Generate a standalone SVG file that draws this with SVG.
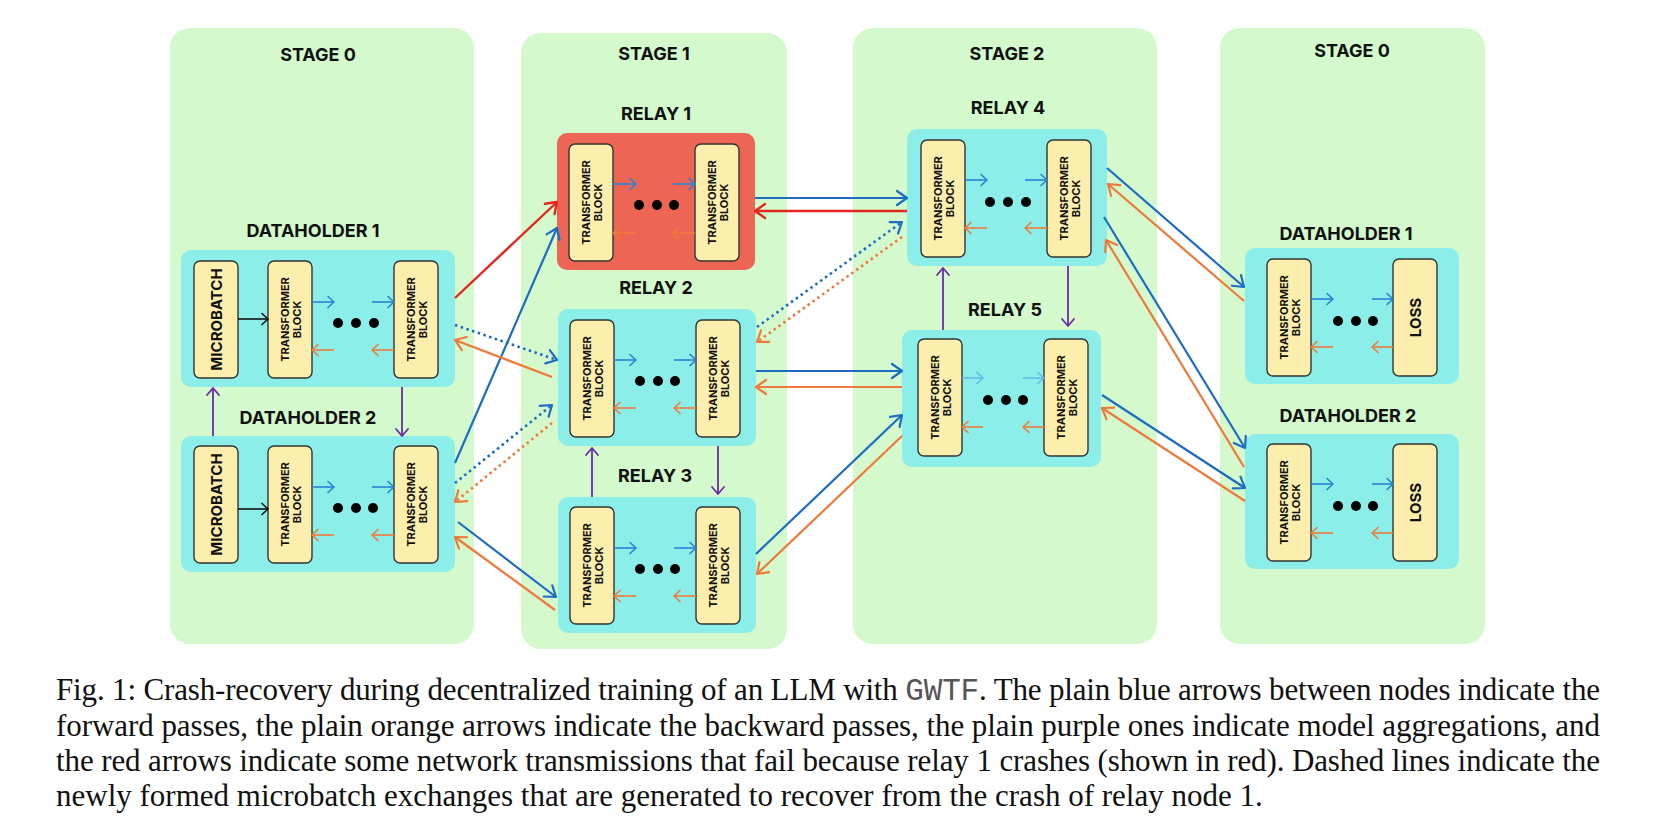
<svg xmlns="http://www.w3.org/2000/svg" width="1653" height="836" viewBox="0 0 1653 836">
<style>
.panel{fill:#d4f9cd}
.box{fill:#8beee8}
.crash{fill:#ec6555}
.tb{fill:#fcefae;stroke:#333;stroke-width:1.4}
.h{font-family:Inter,"Liberation Sans",sans-serif;font-weight:700;font-size:18px;fill:#111;text-anchor:middle}
.t{font-family:Inter,"Liberation Sans",sans-serif;font-weight:700;font-size:11px;fill:#111;text-anchor:middle}
.m{font-family:Inter,"Liberation Sans",sans-serif;font-weight:700;font-size:15px;fill:#111;text-anchor:middle}
.ib{stroke:#2a80d4;stroke-width:1.6;fill:none;marker-end:url(#mib)}
.ib2{stroke:#62b8ea;stroke-width:1.6;fill:none;marker-end:url(#mib2)}
.io{stroke:#f0793a;stroke-width:1.6;fill:none;marker-end:url(#mio)}
.ik{stroke:#111;stroke-width:1.6;fill:none;marker-end:url(#mik)}
.cb{stroke:#1d6cc4;stroke-width:2.2;fill:none;marker-end:url(#mb)}
.co{stroke:#f0793a;stroke-width:2.2;fill:none;marker-end:url(#mo)}
.cr{stroke:#e3261e;stroke-width:2.4;fill:none;marker-end:url(#mr)}
.db{stroke:#1d6cc4;stroke-width:2.6;fill:none;stroke-dasharray:2.5 3.5;marker-end:url(#mb)}
.do{stroke:#f0793a;stroke-width:2.6;fill:none;stroke-dasharray:2.5 3.5;marker-end:url(#mo)}
.cp{stroke:#6b2aa6;stroke-width:1.8;fill:none;marker-end:url(#mp)}
.dot{fill:#000}
.cap{font-family:"Liberation Serif","Times New Roman",serif;font-size:31px;fill:#111}
.mono{font-family:"Liberation Mono","Courier New",monospace;fill:#555}
</style>
<defs>
<marker id="mb" markerUnits="userSpaceOnUse" markerWidth="20" markerHeight="20" orient="auto" overflow="visible"><path d="M-10,-7 L0,0 L-10,7" fill="none" stroke="#1d6cc4" stroke-width="2.2" stroke-linecap="round" stroke-linejoin="round"/></marker>
<marker id="mo" markerUnits="userSpaceOnUse" markerWidth="20" markerHeight="20" orient="auto" overflow="visible"><path d="M-10,-7 L0,0 L-10,7" fill="none" stroke="#f0793a" stroke-width="2.2" stroke-linecap="round" stroke-linejoin="round"/></marker>
<marker id="mr" markerUnits="userSpaceOnUse" markerWidth="20" markerHeight="20" orient="auto" overflow="visible"><path d="M-10,-7 L0,0 L-10,7" fill="none" stroke="#e3261e" stroke-width="2.4" stroke-linecap="round" stroke-linejoin="round"/></marker>
<marker id="mp" markerUnits="userSpaceOnUse" markerWidth="20" markerHeight="20" orient="auto" overflow="visible"><path d="M-7,-6 L0,0 L-7,6" fill="none" stroke="#6b2aa6" stroke-width="1.8" stroke-linecap="round" stroke-linejoin="round"/></marker>
<marker id="mib" markerUnits="userSpaceOnUse" markerWidth="20" markerHeight="20" orient="auto" overflow="visible"><path d="M-6,-5.5 L0,0 L-6,5.5" fill="none" stroke="#2a80d4" stroke-width="1.6" stroke-linecap="round" stroke-linejoin="round"/></marker>
<marker id="mib2" markerUnits="userSpaceOnUse" markerWidth="20" markerHeight="20" orient="auto" overflow="visible"><path d="M-6,-5.5 L0,0 L-6,5.5" fill="none" stroke="#62b8ea" stroke-width="1.6" stroke-linecap="round" stroke-linejoin="round"/></marker>
<marker id="mio" markerUnits="userSpaceOnUse" markerWidth="20" markerHeight="20" orient="auto" overflow="visible"><path d="M-6,-5.5 L0,0 L-6,5.5" fill="none" stroke="#f0793a" stroke-width="1.6" stroke-linecap="round" stroke-linejoin="round"/></marker>
<marker id="mik" markerUnits="userSpaceOnUse" markerWidth="20" markerHeight="20" orient="auto" overflow="visible"><path d="M-6,-5.5 L0,0 L-6,5.5" fill="none" stroke="#111" stroke-width="1.6" stroke-linecap="round" stroke-linejoin="round"/></marker>
</defs>
<rect width="1653" height="836" fill="#fff"/>

<g id="stages">
<g id="stage0-left"><rect class="panel" x="170" y="28" width="304" height="616" rx="20"/><text class="h" x="318" y="61">STAGE 0</text></g>
<g id="stage1"><rect class="panel" x="521" y="33" width="266" height="616" rx="20"/><text class="h" x="654" y="60">STAGE 1</text></g>
<g id="stage2"><rect class="panel" x="853" y="28" width="304" height="616" rx="20"/><text class="h" x="1007" y="60">STAGE 2</text></g>
<g id="stage0-right"><rect class="panel" x="1220" y="28" width="265" height="616" rx="20"/><text class="h" x="1352" y="57">STAGE 0</text></g>
</g>

<g id="dataholder1-left">
<text class="h" x="313" y="237">DATAHOLDER 1</text>
<rect class="box" x="181" y="250" width="274" height="137" rx="10"/>
<rect class="tb" x="194" y="261" width="44" height="117" rx="6"/>
<text class="m" transform="translate(216,319.5) rotate(-90)" y="5.5">MICROBATCH</text>
<rect class="tb" x="268" y="261" width="44" height="117" rx="6"/>
<text class="t" transform="translate(290,319.5) rotate(-90)"><tspan x="0" y="-1">TRANSFORMER</tspan><tspan x="0" y="11">BLOCK</tspan></text>
<rect class="tb" x="394" y="261" width="44" height="117" rx="6"/>
<text class="t" transform="translate(416,319.5) rotate(-90)"><tspan x="0" y="-1">TRANSFORMER</tspan><tspan x="0" y="11">BLOCK</tspan></text>
<path class="ik" d="M238,319 H268"/>
<path class="ib" d="M312,302 H334"/><path class="ib" d="M372,302 H394"/>
<path class="io" d="M334,350 H312"/><path class="io" d="M394,350 H372"/>
<circle class="dot" cx="338" cy="323" r="5"/><circle class="dot" cx="356" cy="323" r="5"/><circle class="dot" cx="374" cy="323" r="5"/>
</g>

<g id="dataholder2-left">
<text class="h" x="308" y="424">DATAHOLDER 2</text>
<rect class="box" x="181" y="436" width="274" height="136" rx="10"/>
<rect class="tb" x="194" y="446" width="44" height="117" rx="6"/>
<text class="m" transform="translate(216,504.5) rotate(-90)" y="5.5">MICROBATCH</text>
<rect class="tb" x="268" y="446" width="44" height="117" rx="6"/>
<text class="t" transform="translate(290,504.5) rotate(-90)"><tspan x="0" y="-1">TRANSFORMER</tspan><tspan x="0" y="11">BLOCK</tspan></text>
<rect class="tb" x="394" y="446" width="44" height="117" rx="6"/>
<text class="t" transform="translate(416,504.5) rotate(-90)"><tspan x="0" y="-1">TRANSFORMER</tspan><tspan x="0" y="11">BLOCK</tspan></text>
<path class="ik" d="M238,509 H268"/>
<path class="ib" d="M312,487 H334"/><path class="ib" d="M372,487 H394"/>
<path class="io" d="M334,535 H312"/><path class="io" d="M394,535 H372"/>
<circle class="dot" cx="338" cy="508" r="5"/><circle class="dot" cx="356" cy="508" r="5"/><circle class="dot" cx="373" cy="508" r="5"/>
</g>

<g id="relay1">
<text class="h" x="656" y="120">RELAY 1</text>
<rect class="crash" x="557" y="133" width="198" height="137" rx="10"/>
<rect class="tb" x="569" y="144" width="44" height="117" rx="6"/>
<text class="t" transform="translate(591,202.5) rotate(-90)"><tspan x="0" y="-1">TRANSFORMER</tspan><tspan x="0" y="11">BLOCK</tspan></text>
<rect class="tb" x="695" y="144" width="44" height="117" rx="6"/>
<text class="t" transform="translate(717,202.5) rotate(-90)"><tspan x="0" y="-1">TRANSFORMER</tspan><tspan x="0" y="11">BLOCK</tspan></text>
<path class="ib" d="M613,184 H636"/><path class="ib" d="M673,184 H695"/>
<path class="io" d="M636,233 H613"/><path class="io" d="M695,233 H673"/>
<circle class="dot" cx="639" cy="205" r="5"/><circle class="dot" cx="657" cy="205" r="5"/><circle class="dot" cx="674" cy="205" r="5"/>
</g>

<g id="relay2">
<text class="h" x="656" y="294">RELAY 2</text>
<rect class="box" x="558" y="309" width="198" height="137" rx="10"/>
<rect class="tb" x="570" y="320" width="44" height="117" rx="6"/>
<text class="t" transform="translate(592,378.5) rotate(-90)"><tspan x="0" y="-1">TRANSFORMER</tspan><tspan x="0" y="11">BLOCK</tspan></text>
<rect class="tb" x="696" y="320" width="44" height="117" rx="6"/>
<text class="t" transform="translate(718,378.5) rotate(-90)"><tspan x="0" y="-1">TRANSFORMER</tspan><tspan x="0" y="11">BLOCK</tspan></text>
<path class="ib" d="M614,360 H636"/><path class="ib" d="M674,360 H696"/>
<path class="io" d="M636,408 H614"/><path class="io" d="M696,408 H674"/>
<circle class="dot" cx="640" cy="381" r="5"/><circle class="dot" cx="658" cy="381" r="5"/><circle class="dot" cx="675" cy="381" r="5"/>
</g>

<g id="relay3">
<text class="h" x="655" y="482">RELAY 3</text>
<rect class="box" x="558" y="497" width="198" height="136" rx="10"/>
<rect class="tb" x="570" y="507" width="44" height="117" rx="6"/>
<text class="t" transform="translate(592,565.5) rotate(-90)"><tspan x="0" y="-1">TRANSFORMER</tspan><tspan x="0" y="11">BLOCK</tspan></text>
<rect class="tb" x="696" y="507" width="44" height="117" rx="6"/>
<text class="t" transform="translate(718,565.5) rotate(-90)"><tspan x="0" y="-1">TRANSFORMER</tspan><tspan x="0" y="11">BLOCK</tspan></text>
<path class="ib" d="M614,548 H636"/><path class="ib" d="M674,548 H696"/>
<path class="io" d="M636,596 H614"/><path class="io" d="M696,596 H674"/>
<circle class="dot" cx="640" cy="569" r="5"/><circle class="dot" cx="658" cy="569" r="5"/><circle class="dot" cx="675" cy="569" r="5"/>
</g>

<g id="relay4">
<text class="h" x="1008" y="114">RELAY 4</text>
<rect class="box" x="907" y="129" width="200" height="137" rx="10"/>
<rect class="tb" x="921" y="140" width="44" height="117" rx="6"/>
<text class="t" transform="translate(943,198.5) rotate(-90)"><tspan x="0" y="-1">TRANSFORMER</tspan><tspan x="0" y="11">BLOCK</tspan></text>
<rect class="tb" x="1047" y="140" width="44" height="117" rx="6"/>
<text class="t" transform="translate(1069,198.5) rotate(-90)"><tspan x="0" y="-1">TRANSFORMER</tspan><tspan x="0" y="11">BLOCK</tspan></text>
<path class="ib" d="M965,180 H987"/><path class="ib" d="M1025,180 H1047"/>
<path class="io" d="M987,228 H965"/><path class="io" d="M1047,228 H1025"/>
<circle class="dot" cx="990" cy="202" r="5"/><circle class="dot" cx="1008" cy="202" r="5"/><circle class="dot" cx="1026" cy="202" r="5"/>
</g>

<g id="relay5">
<text class="h" x="1005" y="316">RELAY 5</text>
<rect class="box" x="902" y="330" width="199" height="137" rx="10"/>
<rect class="tb" x="918" y="339" width="44" height="117" rx="6"/>
<text class="t" transform="translate(940,397.5) rotate(-90)"><tspan x="0" y="-1">TRANSFORMER</tspan><tspan x="0" y="11">BLOCK</tspan></text>
<rect class="tb" x="1044" y="339" width="44" height="117" rx="6"/>
<text class="t" transform="translate(1066,397.5) rotate(-90)"><tspan x="0" y="-1">TRANSFORMER</tspan><tspan x="0" y="11">BLOCK</tspan></text>
<path class="ib2" d="M962,378 H983"/><path class="ib2" d="M1023,378 H1044"/>
<path class="io" d="M983,427 H962"/><path class="io" d="M1044,427 H1023"/>
<circle class="dot" cx="988" cy="400" r="5"/><circle class="dot" cx="1006" cy="400" r="5"/><circle class="dot" cx="1023" cy="400" r="5"/>
</g>

<g id="dataholder1-right">
<text class="h" x="1346" y="240">DATAHOLDER 1</text>
<rect class="box" x="1245" y="248" width="214" height="136" rx="10"/>
<rect class="tb" x="1267" y="259" width="44" height="117" rx="6"/>
<text class="t" transform="translate(1289,317.5) rotate(-90)"><tspan x="0" y="-1">TRANSFORMER</tspan><tspan x="0" y="11">BLOCK</tspan></text>
<rect class="tb" x="1393" y="259" width="44" height="117" rx="6"/>
<text class="m" transform="translate(1415,317.5) rotate(-90)" y="5.5">LOSS</text>
<path class="ib" d="M1311,299 H1333"/><path class="ib" d="M1372,299 H1393"/>
<path class="io" d="M1333,347 H1311"/><path class="io" d="M1393,347 H1372"/>
<circle class="dot" cx="1338" cy="321" r="5"/><circle class="dot" cx="1356" cy="321" r="5"/><circle class="dot" cx="1373" cy="321" r="5"/>
</g>

<g id="dataholder2-right">
<text class="h" x="1348" y="422">DATAHOLDER 2</text>
<rect class="box" x="1245" y="434" width="214" height="135" rx="10"/>
<rect class="tb" x="1267" y="444" width="44" height="117" rx="6"/>
<text class="t" transform="translate(1289,502.5) rotate(-90)"><tspan x="0" y="-1">TRANSFORMER</tspan><tspan x="0" y="11">BLOCK</tspan></text>
<rect class="tb" x="1393" y="444" width="44" height="117" rx="6"/>
<text class="m" transform="translate(1415,502.5) rotate(-90)" y="5.5">LOSS</text>
<path class="ib" d="M1311,484 H1333"/><path class="ib" d="M1372,484 H1393"/>
<path class="io" d="M1333,533 H1311"/><path class="io" d="M1393,533 H1372"/>
<circle class="dot" cx="1338" cy="506" r="5"/><circle class="dot" cx="1356" cy="506" r="5"/><circle class="dot" cx="1373" cy="506" r="5"/>
</g>

<g id="connectors">
<path class="cp" d="M213,436 V388"/>
<path class="cp" d="M402,387 V436"/>
<path class="cp" d="M592,497 V448"/>
<path class="cp" d="M718,446 V494"/>
<path class="cp" d="M943,330 V268"/>
<path class="cp" d="M1068,266 V326"/>
<path class="cr" d="M455,298 L557,202"/>
<path class="cr" d="M907,211 L755,211"/>
<path class="cb" d="M455,463 L557,228"/>
<path class="cb" d="M755,198 L907,198"/>
<path class="cb" d="M458,522 L556,597"/>
<path class="cb" d="M756,371 L902,371"/>
<path class="cb" d="M756,554 L902,415"/>
<path class="cb" d="M1107,168 L1244,287"/>
<path class="cb" d="M1104,217 L1245,448"/>
<path class="cb" d="M1102,395 L1245,488"/>
<path class="co" d="M552,377 L455,340"/>
<path class="co" d="M555,610 L455,537"/>
<path class="co" d="M902,387 L756,387"/>
<path class="co" d="M902,436 L757,574"/>
<path class="co" d="M1244,301 L1108,184"/>
<path class="co" d="M1244,467 L1106,240"/>
<path class="co" d="M1245,501 L1102,408"/>
<path class="db" d="M455,325 L557,360"/>
<path class="db" d="M455,483 L552,405"/>
<path class="db" d="M757,327 L902,222"/>
<path class="do" d="M552,423 L455,502"/>
<path class="do" d="M902,237 L757,342"/>
</g>

<g id="caption">
<text class="cap" x="56" y="700" textLength="1544" lengthAdjust="spacing">Fig. 1: Crash-recovery during decentralized training of an LLM with <tspan class="mono">GWTF</tspan>. The plain blue arrows between nodes indicate the</text>
<text class="cap" x="56" y="736" textLength="1544" lengthAdjust="spacing">forward passes, the plain orange arrows indicate the backward passes, the plain purple ones indicate model aggregations, and</text>
<text class="cap" x="56" y="771" textLength="1544" lengthAdjust="spacing">the red arrows indicate some network transmissions that fail because relay 1 crashes (shown in red). Dashed lines indicate the</text>
<text class="cap" x="56" y="806">newly formed microbatch exchanges that are generated to recover from the crash of relay node 1.</text>
</g>
</svg>
